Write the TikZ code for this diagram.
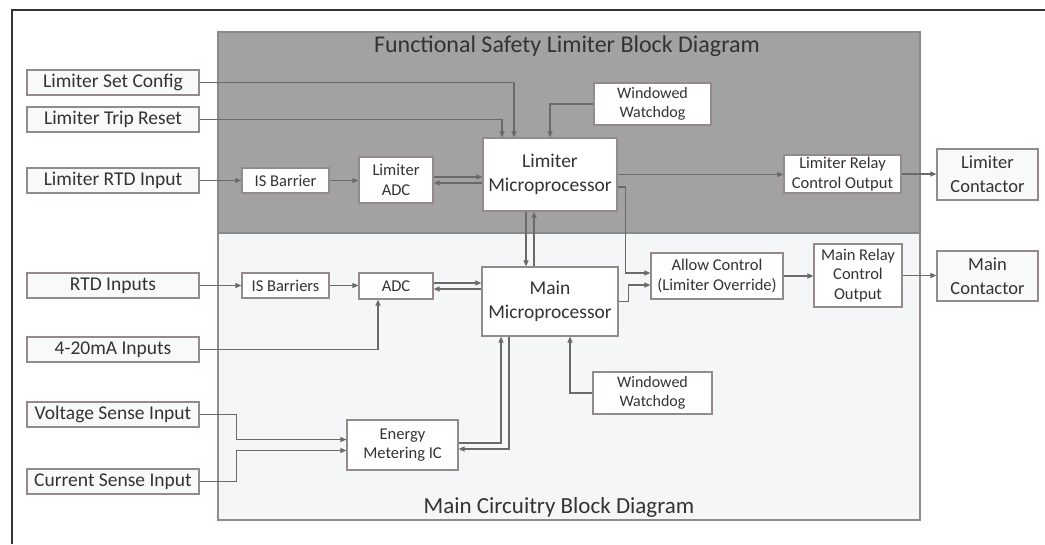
\documentclass[tikz,border=0pt]{standalone}
\usepackage{fontspec}
\setmainfont{Carlito}
\usetikzlibrary{arrows.meta}
\definecolor{regiongray}{HTML}{A2A2A2}
\definecolor{mainfill}{HTML}{F4F6F7}
\definecolor{boxborder}{HTML}{948A8A}
\definecolor{linecol}{HTML}{6A6A6A}
\definecolor{textcol}{HTML}{333333}
\definecolor{framecol}{HTML}{333333}
\begin{document}
\begin{tikzpicture}[x=1pt,y=-1pt,
  every node/.style={text=textcol},
  blk/.style={draw=boxborder, line width=1.2pt, fill=white, inner sep=1pt, align=center, anchor=center},
  inbox/.style={blk, fill=mainfill!60!white, minimum width=172pt, minimum height=25pt, font=\fontsize{19.5}{22}\selectfont},
  smallbox/.style={blk, font=\fontsize{16.5}{19.5}\selectfont},
  bigbox/.style={blk, font=\fontsize{19.5}{24}\selectfont},
  wire/.style={draw=linecol, line width=1.2pt},
  arr/.style={wire, -{Triangle[length=6pt,width=5pt]}},
  region/.style={draw=boxborder, line width=1.2pt}
]
\useasboundingbox (0,0) rectangle (1045,544);
\fill[white] (0,0) rectangle (1045,544);
% outer frame (top and left edges)
\draw[framecol, line width=1.3pt] (12,544) -- (12,10) -- (1045,10);
% regions
\path[region, fill=mainfill] (218,233) rectangle (920,520);
\path[region, draw=regiongray!85!black, fill=regiongray] (218,32) rectangle (920,233);
\node[font=\fontsize{24}{28}\selectfont, anchor=base] (t1) at (567,52) {Functional Safety Limiter Block Diagram};
\node[font=\fontsize{23}{28}\selectfont, anchor=base] (t2) at (559,513) {Main Circuitry Block Diagram};

% input boxes
\node[inbox] (lsc)  at (113,82.5)  {Limiter Set Config};
\node[inbox] (ltr)  at (113,119.5) {Limiter Trip Reset};
\node[inbox] (lrtd) at (113,180.5) {Limiter RTD Input};
\node[inbox] (rtd)  at (113,285.5) {RTD Inputs};
\node[inbox] (ma)   at (113,349.5) {4-20mA Inputs};
\node[inbox] (vs)   at (113,414.5) {Voltage Sense Input};
\node[inbox] (cs)   at (113,481.5) {Current Sense Input};

% inner blocks
\node[smallbox, minimum width=87pt, minimum height=25pt] (isb1) at (285.5,180.5) {IS Barrier};
\node[smallbox, minimum width=87pt, minimum height=25pt] (isb2) at (285.5,285.5) {IS Barriers};
\node[smallbox, minimum width=74pt, minimum height=46pt] (ladc) at (396,180) {Limiter\\ADC};
\node[bigbox, minimum width=134pt, minimum height=73pt] (lmp) at (550,174.5) {Limiter\\Microprocessor};
\node[smallbox, minimum width=117pt, minimum height=42pt, font=\fontsize{16}{19.5}\selectfont] (wd1) at (652.5,104) {Windowed\\Watchdog};
\node[smallbox, minimum width=117pt, minimum height=38pt] (lrc) at (842.5,174) {Limiter Relay\\Control Output};
\node[blk, fill=mainfill!60!white, minimum width=101pt, minimum height=51pt, font=\fontsize{18.5}{24}\selectfont] (lc) at (987.5,174.5) {Limiter\\Contactor};

\node[smallbox, minimum width=74pt, minimum height=26pt] (adc) at (396,286) {ADC};
\node[bigbox, minimum width=136pt, minimum height=69pt] (mmp) at (550,301.5) {Main\\Microprocessor};
\node[smallbox, minimum width=132pt, minimum height=46pt] (ac) at (717,276) {Allow Control\\(Limiter Override)};
\node[smallbox, minimum width=88pt, minimum height=63pt] (mrc) at (858,275.5) {Main Relay\\Control\\Output};
\node[blk, fill=mainfill!60!white, minimum width=101pt, minimum height=50pt, font=\fontsize{18.5}{24}\selectfont] (mc) at (987.5,276) {Main\\Contactor};
\node[smallbox, minimum width=119pt, minimum height=42pt, font=\fontsize{16}{19.5}\selectfont] (wd2) at (652.5,393) {Windowed\\Watchdog};
\node[smallbox, minimum width=111pt, minimum height=50pt] (emi) at (402.5,445) {Energy\\Metering IC};

% connectors - limiter section
\draw[arr] (lsc.east) -| ([xshift=-36pt]lmp.north);
\draw[arr] (ltr.east) -| ([xshift=-48pt]lmp.north);
\draw[arr] (wd1.west) -| (lmp.north);
\draw[arr] (lrtd.east) -- (isb1.west);
\draw[arr] (isb1.east) -- (isb1.east -| ladc.west);
\draw[arr] ([yshift=3pt]ladc.east) -- ([yshift=3pt]ladc.east -| lmp.west);
\draw[arr] ([yshift=-3pt]ladc.east -| lmp.west) -- ([yshift=-3pt]ladc.east);
\draw[arr] (lmp.east) -- (lmp.east -| lrc.west);
\draw[arr] (lrc.east) -- (lrc.east -| lc.west);
\coordinate (k1) at ([xshift=8pt,yshift=-12.5pt]lmp.east);
\draw[arr] ([yshift=-12.5pt]lmp.east) -- (k1) |- ([yshift=3pt]ac.west);
\coordinate (k2) at ([xshift=10pt]mmp.east);
\draw[arr] (mmp.east) -- (k2) |- ([yshift=-9pt]ac.west);
\draw[arr] ([xshift=-24pt]lmp.south) -- ([xshift=-24pt]lmp.south |- mmp.north);
\draw[arr] ([xshift=-16pt]lmp.south |- mmp.north) -- ([xshift=-16pt]lmp.south);

% connectors - main section
\draw[arr] (rtd.east) -- (isb2.west);
\draw[arr] (isb2.east) -- (isb2.east -| adc.west);
\draw[arr] ([yshift=3pt]adc.east) -- ([yshift=3pt]adc.east -| mmp.west);
\draw[arr] ([yshift=-3pt]adc.east -| mmp.west) -- ([yshift=-3pt]adc.east);
\draw[arr] (ma.east) -| ([xshift=-18pt]adc.south);
\coordinate (k3) at ([xshift=37pt]vs.east);
\coordinate (k4) at ([xshift=37pt]cs.east);
\draw[arr] (vs.east) -- (k3) |- ([yshift=5.5pt]emi.west);
\draw[arr] (cs.east) -- (k4) |- ([yshift=-5.5pt]emi.west);
\draw[arr] ([yshift=2pt]emi.east) -| ([xshift=-49pt]mmp.south);
\draw[arr] ([xshift=-41pt]mmp.south) |- ([yshift=-4pt]emi.east);
\draw[arr] (wd2.west) -| ([xshift=20pt]mmp.south);
\draw[arr] (ac.east) -- (ac.east -| mrc.west);
\draw[arr] (mrc.east) -- (mrc.east -| mc.west);
\end{tikzpicture}
\end{document}
